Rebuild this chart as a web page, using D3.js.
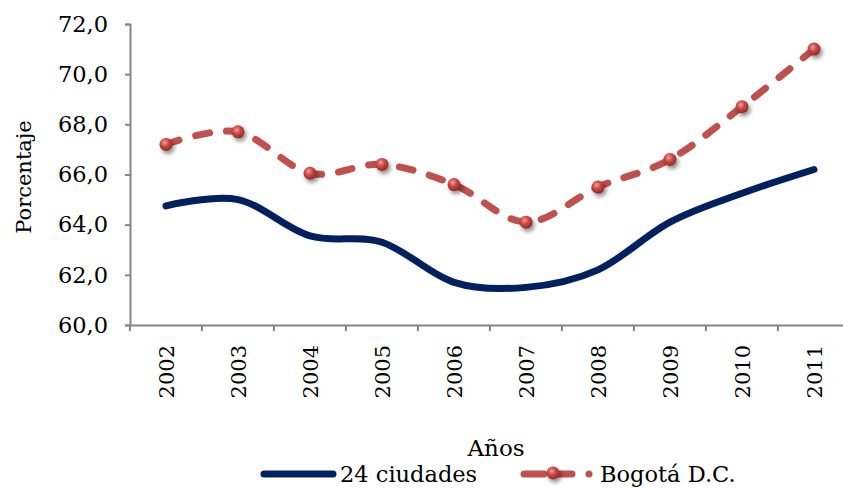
<!DOCTYPE html>
<html>
<head>
<meta charset="utf-8">
<script src="https://cdn.jsdelivr.net/npm/d3@7"></script>
<style>
	body { margin: 0; background: #fff; }
	svg { display: block; overflow: hidden; }
	text { font-family: "DejaVu Serif", serif; fill: #000; }
</style>
</head>
<body>
<svg id="chart" width="843" height="489"></svg>
<script>
var years = ["2002", "2003", "2004", "2005", "2006", "2007", "2008", "2009", "2010", "2011"];
var ciudades = [64.75, 65.0, 63.55, 63.3, 61.7, 61.5, 62.2, 64.1, 65.25, 66.2];
var bogota = [67.2, 67.7, 66.05, 66.4, 65.6, 64.1, 65.5, 66.6, 68.7, 71.0];
var yTicks = [60, 62, 64, 66, 68, 70, 72];
var seriesNames = ["24 ciudades", "Bogotá D.C."];

var svg = d3.select("#chart");
var axisColor = "#868686";
var blue = "#002060";
var red = "#C0504D";

var x = d3.scaleBand().domain(years).range([130, 850]);
var y = d3.scaleLinear().domain([60, 72]).range([325, 24]);

//gradient + shadow for the markers
var defs = svg.append("defs");
var grad = defs.append("radialGradient")
	.attr("id", "ball")
	.attr("cx", "40%").attr("cy", "35%").attr("r", "65%");
grad.append("stop").attr("offset", "0%").attr("stop-color", "#F3A09C");
grad.append("stop").attr("offset", "45%").attr("stop-color", "#CF4A45");
grad.append("stop").attr("offset", "100%").attr("stop-color", "#8E2A27");
var shadow = defs.append("filter").attr("id", "shadow")
	.attr("x", "-100%").attr("y", "-100%").attr("width", "300%").attr("height", "300%");
shadow.append("feDropShadow")
	.attr("dx", 2).attr("dy", 3).attr("stdDeviation", 2.2)
	.attr("flood-color", "#000").attr("flood-opacity", 0.45);

//y axis
var yAxis = d3.axisLeft(y)
	.tickValues(yTicks)
	.tickSize(5)
	.tickPadding(17)
	.tickFormat(function(d){ return d3.format(".1f")(d).replace(".", ","); });
var gy = svg.append("g").attr("transform", "translate(130,0)").call(yAxis);
gy.select(".domain").attr("stroke", axisColor).attr("stroke-width", 2);
gy.selectAll(".tick line").attr("stroke", axisColor).attr("stroke-width", 2);
gy.selectAll(".tick text")
	.attr("font-size", "22.5px")
	.attr("font-family", "DejaVu Serif")
	.attr("fill", "#000");

//x axis
var xAxis = d3.axisBottom(x).tickSize(0).tickPadding(0);
var gx = svg.append("g").attr("transform", "translate(0,325)").call(xAxis);
gx.select(".domain").attr("stroke", axisColor).attr("stroke-width", 2);
gx.selectAll(".tick text")
	.attr("font-size", "21px")
	.attr("font-family", "DejaVu Serif")
	.attr("fill", "#000")
	.attr("text-anchor", "end")
	.attr("dy", null)
	.attr("transform", "translate(8,20) rotate(-90)");
//tick marks between categories
gx.selectAll(".sep")
	.data(years)
	.enter().append("line")
		.attr("class", "sep")
		.attr("x1", function(d){ return x(d); })
		.attr("x2", function(d){ return x(d); })
		.attr("y1", 0)
		.attr("y2", 6)
		.attr("stroke", axisColor)
		.attr("stroke-width", 2);

//axis titles
svg.append("text")
	.text("Porcentaje")
	.attr("font-size", "21px")
	.attr("text-anchor", "middle")
	.attr("transform", "translate(31,177) rotate(-90)");
svg.append("text")
	.text("Años")
	.attr("font-size", "23px")
	.attr("text-anchor", "middle")
	.attr("x", 496)
	.attr("y", 456);

var line = d3.line()
	.x(function(d, i){ return x(years[i]) + x.bandwidth() / 2; })
	.y(function(d){ return y(d); })
	.curve(d3.curveCardinal.tension(0));

svg.append("path")
	.datum(ciudades)
	.attr("d", line)
	.attr("fill", "none")
	.attr("stroke", blue)
	.attr("stroke-width", 7)
	.attr("stroke-linecap", "round");

svg.append("path")
	.datum(bogota)
	.attr("d", line)
	.attr("fill", "none")
	.attr("stroke", red)
	.attr("stroke-width", 7)
	.attr("stroke-linecap", "round")
	.attr("stroke-dasharray", "14,17");

svg.selectAll(".pt")
	.data(bogota)
	.enter().append("circle")
		.attr("class", "pt")
		.attr("cx", function(d, i){ return x(years[i]) + x.bandwidth() / 2; })
		.attr("cy", function(d){ return y(d); })
		.attr("r", 6.5)
		.attr("fill", "url(#ball)")
		.attr("filter", "url(#shadow)");

//legend
var leg = svg.append("g");
leg.append("line")
	.attr("x1", 264).attr("x2", 333).attr("y1", 474).attr("y2", 474)
	.attr("stroke", blue).attr("stroke-width", 7).attr("stroke-linecap", "round");
leg.append("text").text(seriesNames[0])
	.attr("x", 340).attr("y", 482).attr("font-size", "22.5px");
leg.append("line")
	.attr("x1", 524).attr("x2", 573).attr("y1", 474).attr("y2", 474)
	.attr("stroke", red).attr("stroke-width", 7).attr("stroke-linecap", "round")
	.attr("stroke-dasharray", "20,8");
leg.append("circle")
	.attr("cx", 589).attr("cy", 474).attr("r", 3.5).attr("fill", red);
leg.append("circle")
	.attr("cx", 553).attr("cy", 473).attr("r", 6.5)
	.attr("fill", "url(#ball)").attr("filter", "url(#shadow)");
leg.append("text").text(seriesNames[1])
	.attr("x", 600).attr("y", 482).attr("font-size", "22.5px");
</script>
</body>
</html>
